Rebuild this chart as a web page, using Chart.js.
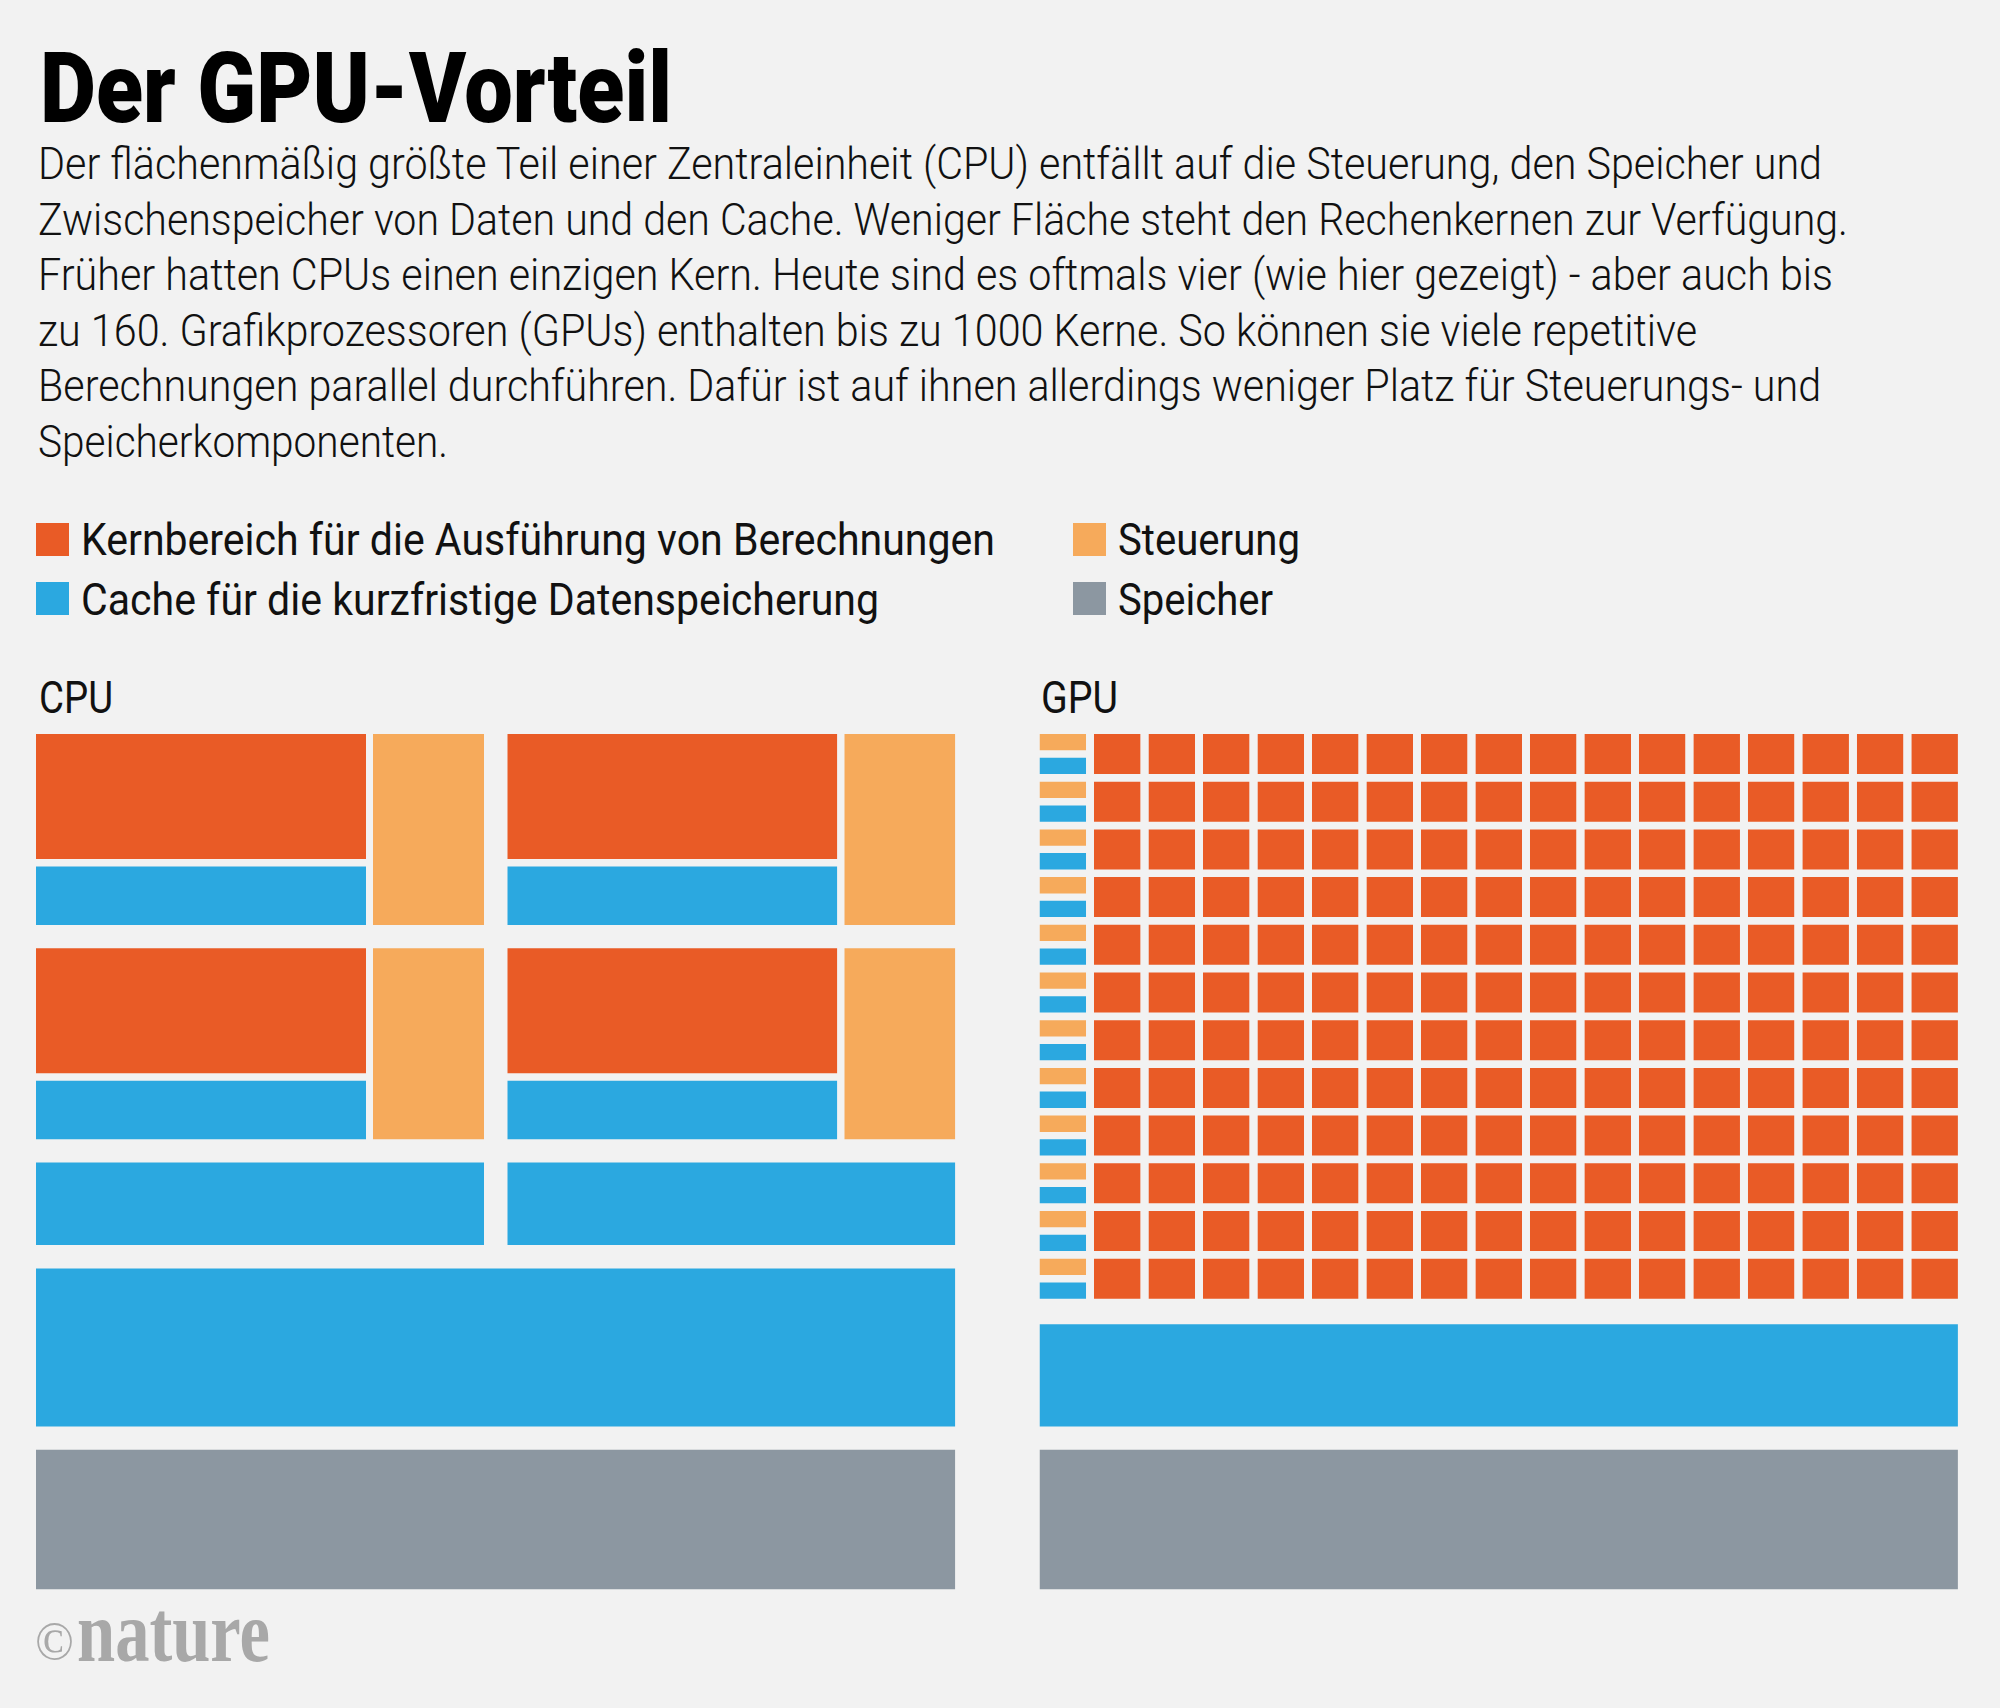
<!DOCTYPE html>
<html lang="de">
<head>
<meta charset="utf-8">
<title>Der GPU-Vorteil</title>
<script src="https://cdn.jsdelivr.net/npm/chart.js@4.4.1/dist/chart.umd.min.js"></script>
<style>
  html, body { margin: 0; padding: 0; }
  body { width: 2000px; height: 1708px; background: #f2f2f2; position: relative; overflow: hidden; }
  .txt { position: absolute; white-space: nowrap; transform-origin: 0 0; line-height: 1.2; color: #111; }
  .key { position: absolute; width: 33px; height: 33px; }
  #chipChart { position: absolute; left: 36px; top: 734px; }
</style>
</head>
<body>
<canvas id="chipChart" width="1922" height="856"></canvas>
<script>
// Legend categories and their colours
const categories = [
  "Kernbereich für die Ausführung von Berechnungen",
  "Cache für die kurzfristige Datenspeicherung",
  "Steuerung",
  "Speicher"
];
const categoryColors = ["#e95b26", "#2ba8e0", "#f6aa5b", "#8c97a1"];

// What is on each chip
const cpuCores = 4;          // shown as 2 x 2
const cpuCoreColumns = 2;
const gpuCoreColumns = 16;
const gpuCoreRows = 12;      // one control + cache unit per row

const CORE = 0, CACHE = 1, CONTROL = 2, MEMORY = 3;

// Layout sizes (chart units, chart area = 1922 x 856)
const W = 1922, H = 856;
const gap = 23.3;
const cpu = { coreW: 330, innerGap: 7, ctrlW: 111, coreH: 125, l1Gap: 7.5, l1H: 58.5, l2H: 82.5 };
const gpu = { left: 1003.5, pitch: 54.49, cellW: 46.6, rowPitch: 47.7, cellH: 40, smallH: 16.3 };
const bottom = { l3Top: 534.4, l3Bottom: 692.4, memTop: 715.7, memBottom: 855.3 };

function box(x0, x1, y0, y1, cat) {
  return {
    label: categories[cat],
    data: [{ x: x0, y: y0 }, { x: x1, y: y0 }],
    fill: { value: y1 },
    backgroundColor: categoryColors[cat],
    borderColor: "transparent",
    borderWidth: 0,
    pointRadius: 0,
    pointHoverRadius: 0,
    tension: 0
  };
}

const datasets = [];

// CPU: four big cores, each with its own control unit and L1 cache
const groupW = cpu.coreW + cpu.innerGap + cpu.ctrlW;
const blockH = cpu.coreH + cpu.l1Gap + cpu.l1H;
for (let i = 0; i < cpuCores; i++) {
  const col = i % cpuCoreColumns;
  const row = Math.floor(i / cpuCoreColumns);
  const x0 = col * (groupW + gap);
  const y0 = row * (blockH + gap);
  datasets.push(box(x0, x0 + cpu.coreW, y0, y0 + cpu.coreH, CORE));
  datasets.push(box(x0, x0 + cpu.coreW, y0 + cpu.coreH + cpu.l1Gap, y0 + blockH, CACHE));
  datasets.push(box(x0 + cpu.coreW + cpu.innerGap, x0 + groupW, y0, y0 + blockH, CONTROL));
}
// CPU: L2 cache halves, shared L3 cache, memory
const l2Top = 2 * (blockH + gap);
for (let c = 0; c < cpuCoreColumns; c++) {
  const x0 = c * (groupW + gap);
  datasets.push(box(x0, x0 + groupW, l2Top, l2Top + cpu.l2H, CACHE));
}
const cpuRight = cpuCoreColumns * groupW + gap;
datasets.push(box(0, cpuRight, bottom.l3Top, bottom.l3Bottom, CACHE));
datasets.push(box(0, cpuRight, bottom.memTop, bottom.memBottom, MEMORY));

// GPU: one thin control + cache column, then a grid of small cores
for (let r = 0; r < gpuCoreRows; r++) {
  const y0 = r * gpu.rowPitch;
  datasets.push(box(gpu.left, gpu.left + gpu.cellW, y0, y0 + gpu.smallH, CONTROL));
  datasets.push(box(gpu.left, gpu.left + gpu.cellW, y0 + gpu.cellH - gpu.smallH, y0 + gpu.cellH, CACHE));
  for (let c = 1; c <= gpuCoreColumns; c++) {
    const x0 = gpu.left + c * gpu.pitch;
    datasets.push(box(x0, x0 + gpu.cellW, y0, y0 + gpu.cellH, CORE));
  }
}
const gpuRight = gpu.left + gpuCoreColumns * gpu.pitch + gpu.cellW;
const gridBottom = (gpuCoreRows - 1) * gpu.rowPitch + gpu.cellH;
datasets.push(box(gpu.left, gpuRight, gridBottom + 25.5, bottom.l3Bottom, CACHE));
datasets.push(box(gpu.left, gpuRight, bottom.memTop, bottom.memBottom, MEMORY));

const chart = new Chart(document.getElementById("chipChart"), {
  type: "line",
  data: { datasets: datasets },
  options: {
    responsive: false,
    animation: false,
    events: [],
    layout: { padding: 0 },
    scales: {
      x: { type: "linear", min: 0, max: W, display: false },
      y: { type: "linear", min: 0, max: H, reverse: true, display: false }
    },
    plugins: { legend: { display: false }, tooltip: { enabled: false } }
  }
});

// Text: placed on its baseline and squeezed to the condensed width of the original
const bodyLines = [
  "Der flächenmäßig größte Teil einer Zentraleinheit (CPU) entfällt auf die Steuerung, den Speicher und",
  "Zwischenspeicher von Daten und den Cache. Weniger Fläche steht den Rechenkernen zur Verfügung.",
  "Früher hatten CPUs einen einzigen Kern. Heute sind es oftmals vier (wie hier gezeigt) - aber auch bis",
  "zu 160. Grafikprozessoren (GPUs) enthalten bis zu 1000 Kerne. So können sie viele repetitive",
  "Berechnungen parallel durchführen. Dafür ist auf ihnen allerdings weniger Platz für Steuerungs- und",
  "Speicherkomponenten."
];
const bodyWidths = [1784, 1810, 1795, 1659, 1783, 410];

const texts = [
  { text: "Der GPU-Vorteil", font: "900 99px Roboto", x: 40, base: 122, width: 632, color: "#000" }
];
bodyLines.forEach((t, i) => {
  texts.push({ text: t, font: "300 45px Roboto", x: 38, base: 179 + i * 55.6, width: bodyWidths[i] });
});
const legendPos = [
  { x: 81, base: 555, width: 914, kx: 36, ky: 522.5 },
  { x: 81, base: 614.5, width: 798, kx: 36, ky: 582 },
  { x: 1118, base: 555, width: 182, kx: 1072.5, ky: 522.5 },
  { x: 1118, base: 614.5, width: 155, kx: 1072.5, ky: 582 }
];
categories.forEach((c, i) => {
  const p = legendPos[i];
  texts.push({ text: c, font: "400 44px Roboto", x: p.x, base: p.base, width: p.width });
  const k = document.createElement("div");
  k.className = "key";
  k.style.left = p.kx + "px";
  k.style.top = p.ky + "px";
  k.style.background = categoryColors[i];
  document.body.appendChild(k);
});
texts.push({ text: "CPU", font: "400 44px Roboto", x: 39, base: 713, width: 74 });
texts.push({ text: "GPU", font: "400 44px Roboto", x: 1041, base: 713, width: 77 });
texts.push({ text: "©", font: "400 54px 'Liberation Serif'", x: 35, base: 1659, width: 39, color: "#a8a8a8" });
texts.push({ text: "nature", font: "700 86px 'Liberation Serif'", x: 77, base: 1661, width: 193, color: "#a8a8a8" });

function place(item) {
  const d = document.createElement("div");
  d.className = "txt";
  d.style.font = item.font;
  d.style.left = item.x + "px";
  if (item.color) d.style.color = item.color;
  const probe = document.createElement("span");
  probe.style.cssText = "display:inline-block;width:0;height:0;";
  const s = document.createElement("span");
  s.textContent = item.text;
  d.append(probe, s);
  document.body.appendChild(d);
  d.style.top = (item.base - probe.offsetTop) + "px";
  const w = s.getBoundingClientRect().width;
  d.style.transform = "scaleX(" + (item.width / w).toFixed(4) + ")";
}

document.fonts.ready.then(() => texts.forEach(place));
</script>
</body>
</html>
